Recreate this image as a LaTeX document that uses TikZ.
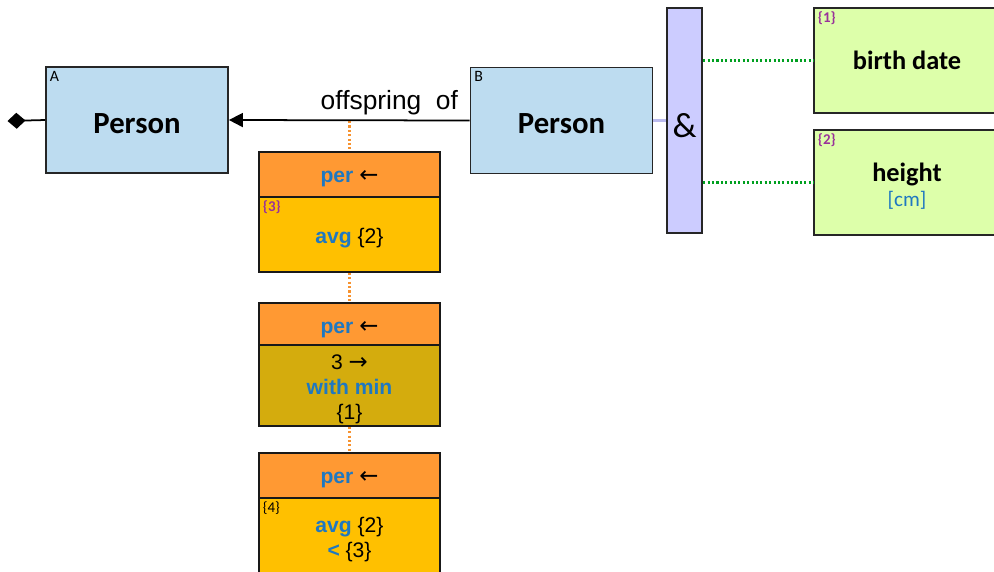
\documentclass[tikz,border=0pt]{standalone}
\usepackage{fontspec}
\setmainfont{Liberation Sans}
\newfontfamily\calibri{Carlito}
\newfontfamily\arrowfont{DejaVu Sans}
\usetikzlibrary{positioning, arrows.meta, backgrounds}

\definecolor{entblue}{HTML}{BDDCF0}
\definecolor{attrgreen}{HTML}{DDFFAA}
\definecolor{headorange}{HTML}{FF9933}
\definecolor{linkorange}{HTML}{F7922F}
\definecolor{bodygold}{HTML}{FFC000}
\definecolor{bodyolive}{HTML}{D4AC0D}
\definecolor{andlilac}{HTML}{CCCCFF}
\definecolor{andline}{HTML}{BBBBEE}
\definecolor{membergreen}{HTML}{00A020}
\definecolor{kwblue}{HTML}{1F78C1}
\definecolor{refpurple}{HTML}{993399}

% lower a line of text a little, keeping its size
\newcommand{\drop}[2][2.3pt]{\raisebox{-#1}[\height][\depth]{#2}}
\newcommand{\arr}[1]{{\arrowfont\fontsize{13}{14}\selectfont #1}}
\newcommand{\kw}[1]{\textcolor{kwblue}{\textbf{#1}}}

\begin{document}
\begin{tikzpicture}[
    entity/.style={
      rectangle, draw=black!85, line width=1pt, fill=entblue,
      minimum width=3.64cm, minimum height=2.12cm,
      font=\calibri\fontsize{17.5}{20}\selectfont\bfseries,
    },
    attr/.style={
      rectangle, draw=black!85, line width=1pt, fill=attrgreen,
      minimum width=3.72cm, minimum height=2.1cm, align=center,
      font=\calibri\fontsize{15}{18}\selectfont\bfseries,
    },
    perhead/.style={
      rectangle, draw=black!90, line width=1pt, fill=headorange,
      minimum width=3.62cm, minimum height=0.9cm,
      font=\fontsize{12}{14}\selectfont,
    },
    perbody/.style={
      rectangle, draw=black!90, line width=1pt, fill=bodygold,
      minimum width=3.62cm, minimum height=1.5cm, align=center,
      font=\fontsize{12}{14.2}\selectfont,
    },
    andbar/.style={
      rectangle, draw=black!85, line width=1pt, fill=andlilac,
      minimum width=0.62cm, minimum height=4.5cm,
      font=\calibri\fontsize{20}{22}\selectfont,
    },
    corner/.style={font=\calibri\fontsize{9}{10}\selectfont, inner sep=2.5pt, anchor=north west},
    refnum/.style={corner, text=refpurple, font=\calibri\fontsize{8.5}{10}\selectfont\bfseries},
    rolelabel/.style={font=\fontsize{15}{17}\selectfont, inner sep=3pt},
    role/.style={-{Triangle[length=0.28cm, width=0.28cm]}, line width=1pt, black},
    perlink/.style={line width=1.5pt, linkorange, dash pattern=on 1.2pt off 1.3pt},
    member/.style={line width=1.3pt, membergreen, dash pattern=on 1.2pt off 1.3pt},
]

\useasboundingbox (0,0) rectangle (19.88,-11.42);
\clip (0,0) rectangle (19.88,-11.42);

% The two persons
\node[entity] (personA) at (2.74,-2.40) {\drop[2pt]{Person}};
\node[entity] (personB) at (11.23,-2.41) {\drop[2pt]{Person}};
\node[corner] at (personA.north west) {A};
\node[corner] at (personB.north west) {B};

% Diamond end on the left
\coordinate (root) at (0.15,-2.42);
\draw[{Diamond[length=0.36cm, width=0.32cm]}-, line width=1pt] (root) -- (personA.west);

% Role line B -> A
\draw[role] (personB.west) -- (personA.east);
\node[rolelabel, above left=0pt and 0.12cm of personB.west] (role) {offspring\ \ of};

% Chain of per-blocks hanging under the role line
\coordinate (tap) at (6.99,-2.42);
\node[perhead] (head1) at (6.99,-3.49) {\drop{\kw{per} \arr{←}}};
\node[perbody] (body1) at (6.99,-4.69) {\drop{\kw{avg} \{2\}}};
\node[perhead] (head2) at (6.99,-6.51) {\drop{\kw{per} \arr{←}}};
\node[perbody, fill=bodyolive] (body2) at (6.99,-7.71)
    {\drop{3 \arr{→}}\\\drop{\kw{with min}}\\\drop{\{1\}}};
\node[perhead] (head3) at (6.99,-9.51) {\drop{\kw{per} \arr{←}}};
\node[perbody] (body3) at (6.99,-10.71)
    {\drop{\kw{avg} \{2\}}\\\drop{\kw{<} \{3\}}};
\node[refnum] at (body1.north west) {\{3\}};
\node[corner, font=\calibri\fontsize{8.5}{10}\selectfont] at (body3.north west) {\{4\}};

\begin{scope}[on background layer]
  \draw[perlink] (tap) -- (head1.north);
  \draw[perlink] (body1.south) -- (head2.north);
  \draw[perlink] (body2.south) -- (head3.north);
\end{scope}

% Conjunction bar and its members
\node[andbar] (amp) at (13.69,-2.41) {\drop[3pt]{\&}};
\draw[line width=1.2pt, andline] (personB.east) -- (personB.east -| amp.west);

\node[attr] (birth) at (18.14,-1.21) {birth date};
\node[attr] (height) at (18.14,-3.65)
    {\drop[2pt]{height}\\[-4pt]\drop[2pt]{\mdseries\fontsize{12}{14}\selectfont\textcolor{kwblue}{[cm]}}};
\node[refnum] at (birth.north west) {\{1\}};
\node[refnum] at (height.north west) {\{2\}};

\draw[member] (amp.east |- birth.west) -- (birth.west);
\draw[member] (amp.east |- height.west) -- (height.west);
\end{tikzpicture}
\end{document}
